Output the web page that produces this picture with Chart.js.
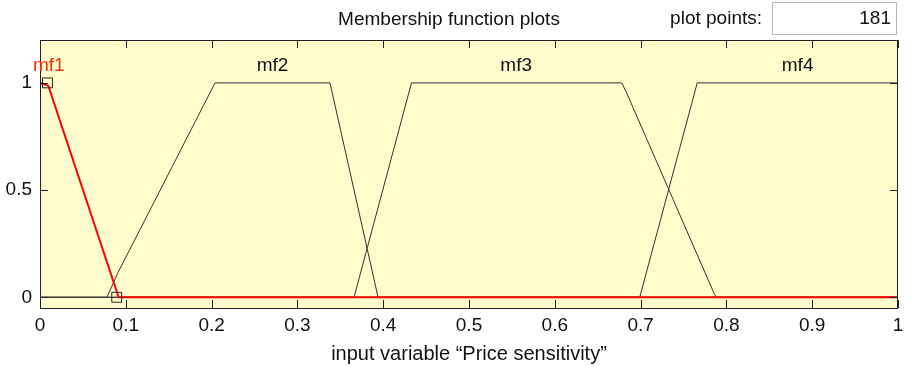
<!DOCTYPE html>
<html>
<head>
<meta charset="utf-8">
<script src="https://cdn.jsdelivr.net/npm/chart.js@4/dist/chart.umd.min.js"></script>
<style>
  html, body { margin: 0; padding: 0; background: #fff; }
  #wrap { width: 910px; height: 366px; }
</style>
</head>
<body>
<div id="wrap"><canvas id="mfPlot" width="910" height="366"></canvas></div>
<script>
// membership functions (x = input, y = degree)
const mf1X = [0, 0.0097, 0.0917, 1];
const mf1Y = [1, 0.987, 0, 0];
const mf2X = [0, 0.078, 0.091, 0.204, 0.338, 0.394, 1];
const mf2Y = [0, 0, 0.116, 1, 1, 0, 0];
const mf3X = [0, 0.366, 0.433, 0.678, 0.683, 0.786, 0.789, 1];
const mf3Y = [0, 0, 1, 1, 0.96, 0.015, 0, 0];
const mf4X = [0, 0.699, 0.766, 1];
const mf4Y = [0, 0, 1, 1];

// vertex boxes of the selected mf (mf1)
const markX = [0.0087, 0.0894];
const markY = [1, 0];

const mfNames = ["mf1", "mf2", "mf3", "mf4"];
const mfLabelX = [0.0102, 0.271, 0.555, 0.883];
const mfLabelY = 1.078;

const xTicks = [0, 0.1, 0.2, 0.3, 0.4, 0.5, 0.6, 0.7, 0.8, 0.9, 1];
const yTicks = [0, 0.5, 1];

const plotTitle = "Membership function plots";
const pointsLabel = "plot points:";
const pointsValue = "181";
const xTitle = "input variable \u201cPrice sensitivity\u201d";

const FONT = "'Liberation Sans', Arial, Helvetica, sans-serif";

function toPoints(xs, ys) {
    return xs.map((x, i) => ({ x: x, y: ys[i] }));
}

const decor = {
    id: "mfDecor",
    beforeDraw(chart) {
        const { ctx, chartArea: a } = chart;
        ctx.save();
        ctx.fillStyle = "#fffdcc";
        ctx.fillRect(a.left, a.top, a.right - a.left, a.bottom - a.top);
        ctx.restore();
    },
    afterDraw(chart) {
        const { ctx, chartArea: a } = chart;
        const xs = chart.scales.x, ys = chart.scales.y;
        ctx.save();
        // frame
        ctx.strokeStyle = "#222";
        ctx.lineWidth = 1;
        ctx.strokeRect(Math.round(a.left) + 0.5, Math.round(a.top) + 0.5,
            Math.round(a.right - a.left) - 1, Math.round(a.bottom - a.top));
        // inward ticks
        const tl = 8;
        ctx.beginPath();
        xTicks.forEach(v => {
            const px = Math.round(xs.getPixelForValue(v)) + 0.5;
            ctx.moveTo(px, a.bottom); ctx.lineTo(px, a.bottom - tl);
            ctx.moveTo(px, a.top); ctx.lineTo(px, a.top + tl);
        });
        yTicks.forEach(v => {
            const py = Math.round(ys.getPixelForValue(v)) + 0.5;
            ctx.moveTo(a.left, py); ctx.lineTo(a.left + tl, py);
            ctx.moveTo(a.right, py); ctx.lineTo(a.right - tl, py);
        });
        ctx.stroke();

        // mf labels
        ctx.font = "19px " + FONT;
        ctx.textAlign = "center";
        ctx.textBaseline = "middle";
        mfNames.forEach((name, i) => {
            ctx.fillStyle = i === 0 ? "#ff2a0a" : "#111";
            ctx.fillText(name, xs.getPixelForValue(mfLabelX[i]), ys.getPixelForValue(mfLabelY));
        });

        // header
        ctx.fillStyle = "#111";
        ctx.fillText(plotTitle, 449, 20);
        ctx.textAlign = "right";
        ctx.fillText(pointsLabel, 762, 19);
        ctx.fillStyle = "#fff";
        ctx.fillRect(772.5, 2.5, 124, 32);
        ctx.strokeStyle = "#b4b4c4";
        ctx.strokeRect(772.5, 2.5, 124, 32);
        ctx.fillStyle = "#111";
        ctx.fillText(pointsValue, 891, 19);

        // axis title
        ctx.font = "20px " + FONT;
        ctx.textAlign = "center";
        ctx.fillText(xTitle, 469, 354);
        ctx.restore();
    }
};

const ctxMfPlot = document.getElementById("mfPlot");
const lineStyle = { showLine: true, pointRadius: 0, borderColor: "#333", borderWidth: 1, tension: 0 };

const configMfPlot = {
    type: "scatter",
    data: {
        datasets: [
            { label: "marks", data: toPoints(markX, markY), showLine: false, pointStyle: "rect",
              pointRadius: 7, pointBorderColor: "#222", pointBackgroundColor: "rgba(0,0,0,0)",
              pointBorderWidth: 1, order: 0, clip: false },
            Object.assign({ label: "mf1", data: toPoints(mf1X, mf1Y), order: 1 }, lineStyle,
                { borderColor: "#ff0000", borderWidth: 2 }),
            Object.assign({ label: "mf2", data: toPoints(mf2X, mf2Y), order: 2 }, lineStyle),
            Object.assign({ label: "mf3", data: toPoints(mf3X, mf3Y), order: 3 }, lineStyle),
            Object.assign({ label: "mf4", data: toPoints(mf4X, mf4Y), order: 4 }, lineStyle)
        ]
    },
    options: {
        responsive: false,
        animation: false,
        events: [],
        layout: { padding: { left: 0, right: 12, top: 40, bottom: 0 } },
        plugins: { legend: { display: false }, tooltip: { enabled: false }, title: { display: false } },
        scales: {
            x: {
                type: "linear", min: 0, max: 1,
                grid: { display: false, drawTicks: false },
                border: { display: false },
                afterBuildTicks: s => { s.ticks = xTicks.map(v => ({ value: v })); },
                afterFit: s => { s.height = 58; },
                ticks: {
                    padding: 6, color: "#111", maxRotation: 0, autoSkip: false,
                    font: { family: FONT, size: 19 },
                    callback: v => String(v)
                }
            },
            y: {
                type: "linear", min: -0.05, max: 1.2,
                grid: { display: false, drawTicks: false },
                border: { display: false },
                afterBuildTicks: s => { s.ticks = yTicks.map(v => ({ value: v })); },
                afterFit: s => { s.width = 40; },
                ticks: {
                    padding: 8, color: "#111",
                    font: { family: FONT, size: 19 },
                    callback: v => String(v)
                }
            }
        }
    },
    plugins: [decor]
};

new Chart(ctxMfPlot, configMfPlot);
</script>
</body>
</html>
